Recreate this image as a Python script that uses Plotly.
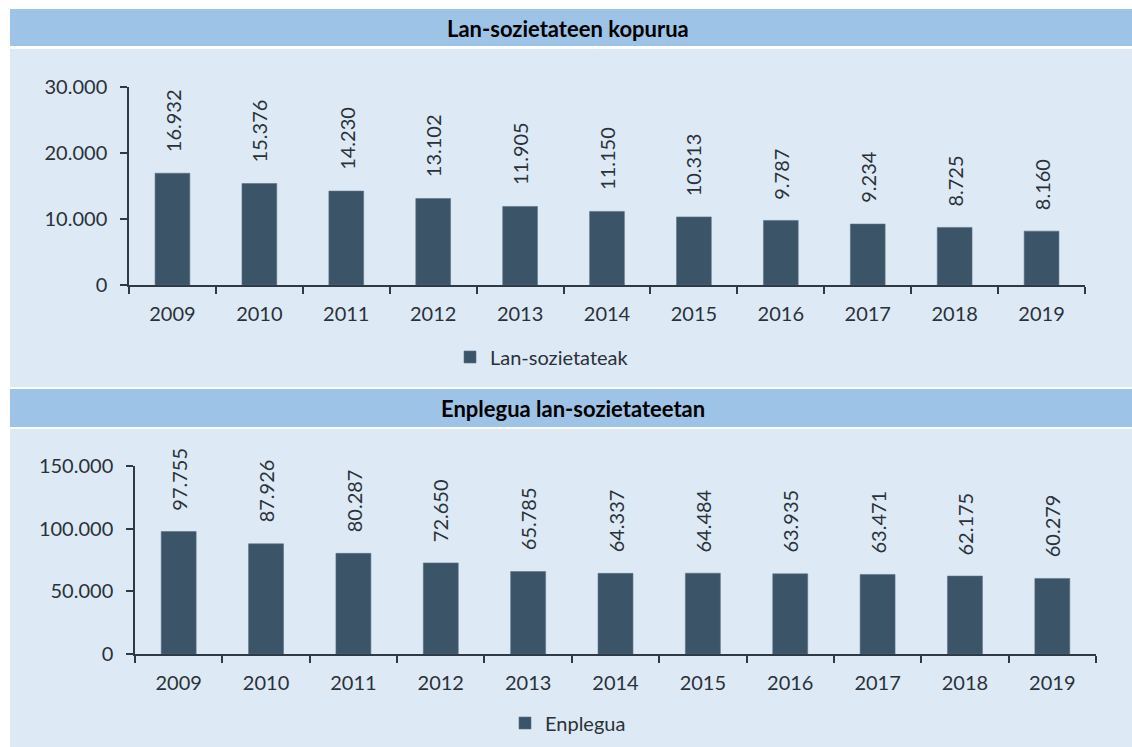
import plotly.graph_objects as go

years = ["2009", "2010", "2011", "2012", "2013", "2014", "2015", "2016", "2017", "2018", "2019"]
sozietateak = [16932, 15376, 14230, 13102, 11905, 11150, 10313, 9787, 9234, 8725, 8160]
enplegua = [97755, 87926, 80287, 72650, 65785, 64337, 64484, 63935, 63471, 62175, 60279]

title_top = "Lan-sozietateen kopurua"
title_bottom = "Enplegua lan-sozietateetan"
name_top = "Lan-sozietateak"
name_bottom = "Enplegua"

W, H = 1132, 747
FONT = "Lato"
FS = 20
TXT = "#2B3138"
AX = "#2E3A45"
BAR = "#3C5468"
HEAD = "#9DC3E6"
BODY = "#DDEAF6"


def px(x):
    return x / W


def py(y):
    return 1 - y / H


def fmt(v):
    return f"{v:,}".replace(",", ".")


fig = go.Figure()
fig.add_trace(go.Bar(x=years, y=sozietateak, name=name_top, marker=dict(color=BAR, line=dict(color="#5C7184", width=0.6)),
                     xaxis="x", yaxis="y", legend="legend", hoverinfo="x+y"))
fig.add_trace(go.Bar(x=years, y=enplegua, name=name_bottom, marker=dict(color=BAR, line=dict(color="#5C7184", width=0.6)),
                     xaxis="x2", yaxis="y2", legend="legend2", hoverinfo="x+y"))

shapes = []
for (y0, y1, col) in [(9, 46, HEAD), (49, 387, BODY), (389, 427, HEAD), (429, 747, BODY)]:
    shapes.append(dict(type="rect", xref="paper", yref="paper", x0=px(10), x1=px(1132), y0=py(y1), y1=py(y0),
                       fillcolor=col, line=dict(width=0), layer="below"))

annotations = [
    dict(text="<b>%s</b>" % title_top, x=px(568), y=py(28), xref="paper", yref="paper", showarrow=False,
         font=dict(family=FONT, size=22, color="#000000"), xanchor="center", yanchor="middle"),
    dict(text="<b>%s</b>" % title_bottom, x=px(573), y=py(408), xref="paper", yref="paper", showarrow=False,
         font=dict(family=FONT, size=22, color="#000000"), xanchor="center", yanchor="middle"),
]
for i, v in enumerate(sozietateak):
    annotations.append(dict(text=fmt(v), x=i, y=v, xref="x", yref="y", textangle=-90, showarrow=False,
                            yanchor="bottom", yshift=19, font=dict(family=FONT, size=FS, color=TXT)))
for i, v in enumerate(enplegua):
    annotations.append(dict(text=fmt(v), x=i, y=v, xref="x2", yref="y2", textangle=-90, showarrow=False,
                            yanchor="bottom", yshift=19, font=dict(family=FONT, size=FS, color=TXT)))

xcommon = dict(type="category", showline=True, linecolor=AX, linewidth=1.5, ticks="outside", tickson="boundaries",
               ticklen=7, tickcolor=AX, tickwidth=1.5, showgrid=False, zeroline=False, automargin=False,
               range=[-0.5, 10.5], tickangle=0,
               tickfont=dict(family=FONT, size=FS, color=TXT), ticklabelstandoff=10)
ycommon = dict(showline=True, linecolor=AX, linewidth=1.5, ticks="outside", ticklen=7, tickcolor=AX, tickwidth=1.5,
               showgrid=False, zeroline=False, tickformat=",d", automargin=False,
               tickfont=dict(family=FONT, size=FS, color=TXT), ticklabelstandoff=9)

fig.update_layout(
    template="none",
    width=W, height=H, margin=dict(l=0, r=0, t=0, b=0, autoexpand=False),
    paper_bgcolor="white", plot_bgcolor="rgba(0,0,0,0)",
    separators=",.",
    bargap=0.6,
    shapes=shapes, annotations=annotations,
    xaxis=dict(domain=[px(129), px(1085)], anchor="y", **xcommon),
    yaxis=dict(domain=[py(285), py(87)], anchor="x", range=[0, 30000], dtick=10000, **ycommon),
    xaxis2=dict(domain=[px(135), px(1096)], anchor="y2", **xcommon),
    yaxis2=dict(domain=[py(654), py(466)], anchor="x2", range=[0, 150000], dtick=50000, **ycommon),
    legend=dict(x=px(450), y=py(357), xanchor="left", yanchor="middle", orientation="h",
                bgcolor="rgba(0,0,0,0)", font=dict(family=FONT, size=FS, color=TXT)),
    legend2=dict(x=px(505), y=py(723), xanchor="left", yanchor="middle", orientation="h",
                 bgcolor="rgba(0,0,0,0)", font=dict(family=FONT, size=FS, color=TXT)),
    showlegend=True,
)

fig.write_html("out.html", config={"displayModeBar": False},
               post_script="document.documentElement.style.margin='0';document.body.style.margin='0';"
                           "document.body.style.overflow='hidden';")
